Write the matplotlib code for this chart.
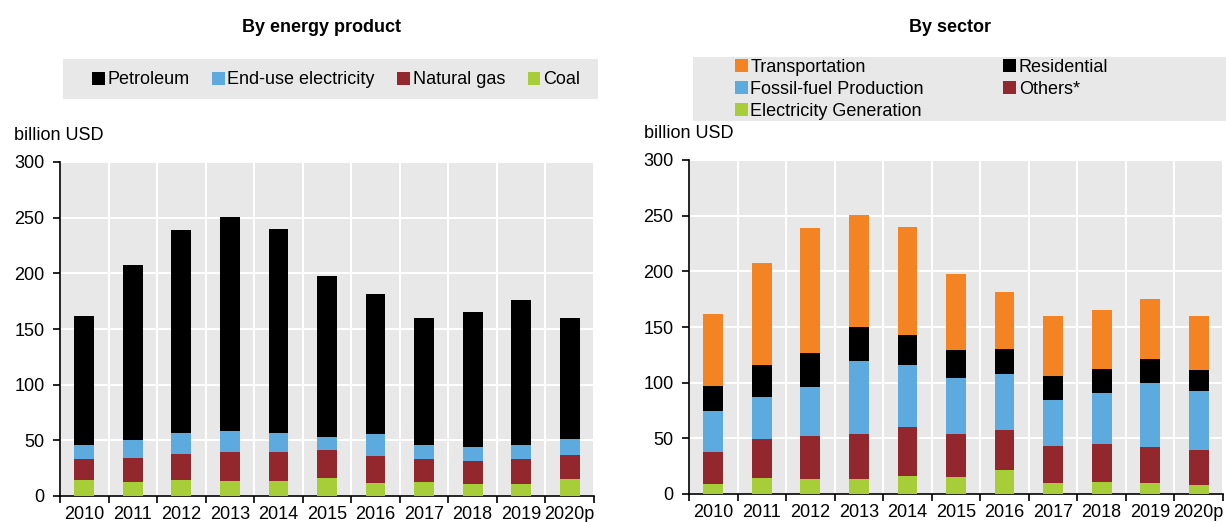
import matplotlib
matplotlib.use("Agg")
import matplotlib.pyplot as plt
from matplotlib.patches import Rectangle, Patch
from matplotlib.ticker import FixedLocator, NullFormatter
import numpy as np

plt.rcParams['font.family'] = ['Liberation Sans', 'DejaVu Sans']

years = ["2010", "2011", "2012", "2013", "2014", "2015", "2016", "2017", "2018", "2019", "2020p"]

# By energy product (billion USD)
coal        = [14.1, 12.9, 14.4, 13.2, 13.8, 16.5, 12.0, 12.9, 11.1, 11.1, 15.0]
natural_gas = [19.2, 21.6, 23.4, 26.7, 26.1, 25.2, 24.3, 20.7, 20.4, 22.5, 21.9]
electricity = [12.8, 15.8, 18.5, 18.5, 16.7, 11.6, 19.7, 12.5, 12.3, 12.2, 14.3]
petroleum   = [116.0, 157.1, 182.5, 192.1, 183.1, 144.5, 125.6, 114.2, 121.3, 129.8, 108.8]

# By sector (billion USD)
elec_gen       = [9.3, 14.4, 13.8, 13.2, 16.2, 15.6, 21.6, 10.2, 11.1, 10.2, 8.1]
others         = [28.7, 34.7, 38.6, 40.4, 44.3, 38.6, 36.2, 33.2, 34.1, 32.3, 31.7]
fossil_prod    = [36.3, 38.0, 43.7, 66.2, 55.7, 49.7, 49.7, 40.7, 45.2, 57.5, 52.7]
residential    = [22.7, 28.8, 30.8, 29.9, 26.6, 25.7, 22.4, 21.9, 21.9, 21.0, 18.6]
transportation = [65.0, 91.3, 111.7, 100.6, 96.7, 68.0, 51.5, 54.2, 52.7, 54.4, 49.1]

C_BLACK = "#000000"
C_BLUE = "#5DAADE"
C_RED = "#93272E"
C_GREEN = "#A7CD39"
C_ORANGE = "#F48323"
BG = "#E8E8E8"
FS = 13

W, H = 1226, 522
fig = plt.figure(figsize=(W / 100, H / 100), dpi=100)


def fx(px):
    return px / W


def fy(py):
    return 1 - py / H


def style_axes(ax):
    n = len(years)
    x = np.arange(n)
    ax.set_facecolor(BG)
    ax.set_xlim(-0.5, n - 0.5)
    ax.set_ylim(0, 300)
    ax.set_yticks(np.arange(0, 301, 50))
    ax.set_xticks(x)
    ax.set_xticklabels(years, fontsize=FS)
    ax.xaxis.set_minor_locator(FixedLocator(np.arange(-0.5, n, 1.0)))
    ax.xaxis.set_minor_formatter(NullFormatter())
    ax.tick_params(axis='x', which='major', length=0, pad=7)
    ax.tick_params(axis='x', which='minor', length=5, width=1.2, direction='out', color='black')
    ax.tick_params(axis='y', length=5, width=1.2, direction='out', labelsize=FS, pad=6)
    ax.grid(True, axis='y', color='white', linewidth=1.5)
    ax.grid(True, axis='x', which='minor', color='white', linewidth=1.5)
    ax.grid(False, axis='x', which='major')
    ax.set_axisbelow(True)
    for s in ['top', 'right']:
        ax.spines[s].set_visible(False)
    for s in ['left', 'bottom']:
        ax.spines[s].set_linewidth(1.2)
        ax.spines[s].set_color('black')
    return x


def stack(ax, x, series, colors):
    bottom = np.zeros(len(x))
    for vals, col in zip(series, colors):
        vals = np.array(vals)
        ax.bar(x, vals, width=0.41, bottom=bottom, color=col, edgecolor='none', zorder=3)
        bottom += vals


# Left panel
ax1 = fig.add_axes([fx(60), fy(496), fx(594 - 60), (496 - 162) / H])
x1 = style_axes(ax1)
stack(ax1, x1, [coal, natural_gas, electricity, petroleum], [C_GREEN, C_RED, C_BLUE, C_BLACK])

# Right panel
ax2 = fig.add_axes([fx(689), fy(494), fx(1223 - 689), (494 - 160) / H])
x2 = style_axes(ax2)
stack(ax2, x2, [elec_gen, others, fossil_prod, residential, transportation],
      [C_GREEN, C_RED, C_BLUE, C_BLACK, C_ORANGE])

# Titles
fig.text(fx(321), fy(27), "By energy product", ha='center', va='center', fontsize=FS, fontweight='bold')
fig.text(fx(950), fy(27), "By sector", ha='center', va='center', fontsize=FS, fontweight='bold')

# Unit labels
fig.text(fx(14), fy(135), "billion USD", ha='left', va='center', fontsize=FS)
fig.text(fx(644), fy(134), "billion USD", ha='left', va='center', fontsize=FS)

# Legend backgrounds
fig.patches.append(Rectangle((fx(63), fy(99)), fx(598 - 63), (99 - 59) / H,
                             transform=fig.transFigure, facecolor=BG, edgecolor='none', zorder=0))
fig.patches.append(Rectangle((fx(693), fy(121)), fx(1226 - 693), (121 - 57) / H,
                             transform=fig.transFigure, facecolor=BG, edgecolor='none', zorder=0))

# Left legend
h1 = [Patch(facecolor=C_BLACK), Patch(facecolor=C_BLUE), Patch(facecolor=C_RED), Patch(facecolor=C_GREEN)]
l1 = ["Petroleum", "End-use electricity", "Natural gas", "Coal"]
fig.legend(h1, l1, loc='center', bbox_to_anchor=(fx(336), fy(80)), ncol=4, frameon=False,
           fontsize=FS, handlelength=0.7, handleheight=0.7, handletextpad=0.15,
           columnspacing=1.25, borderpad=0, borderaxespad=0)

# Right legend
h2 = [Patch(facecolor=C_ORANGE), Patch(facecolor=C_BLUE), Patch(facecolor=C_GREEN),
      Patch(facecolor=C_BLACK), Patch(facecolor=C_RED)]
l2 = ["Transportation", "Fossil-fuel Production", "Electricity Generation", "Residential", "Others*"]
fig.legend(h2, l2, loc='upper left', bbox_to_anchor=(fx(735), fy(59)), ncol=2, frameon=False,
           fontsize=FS, handlelength=0.7, handleheight=0.7, handletextpad=0.15,
           columnspacing=4.4, labelspacing=0.28, borderpad=0, borderaxespad=0)

fig.savefig("out.png", dpi=100)
